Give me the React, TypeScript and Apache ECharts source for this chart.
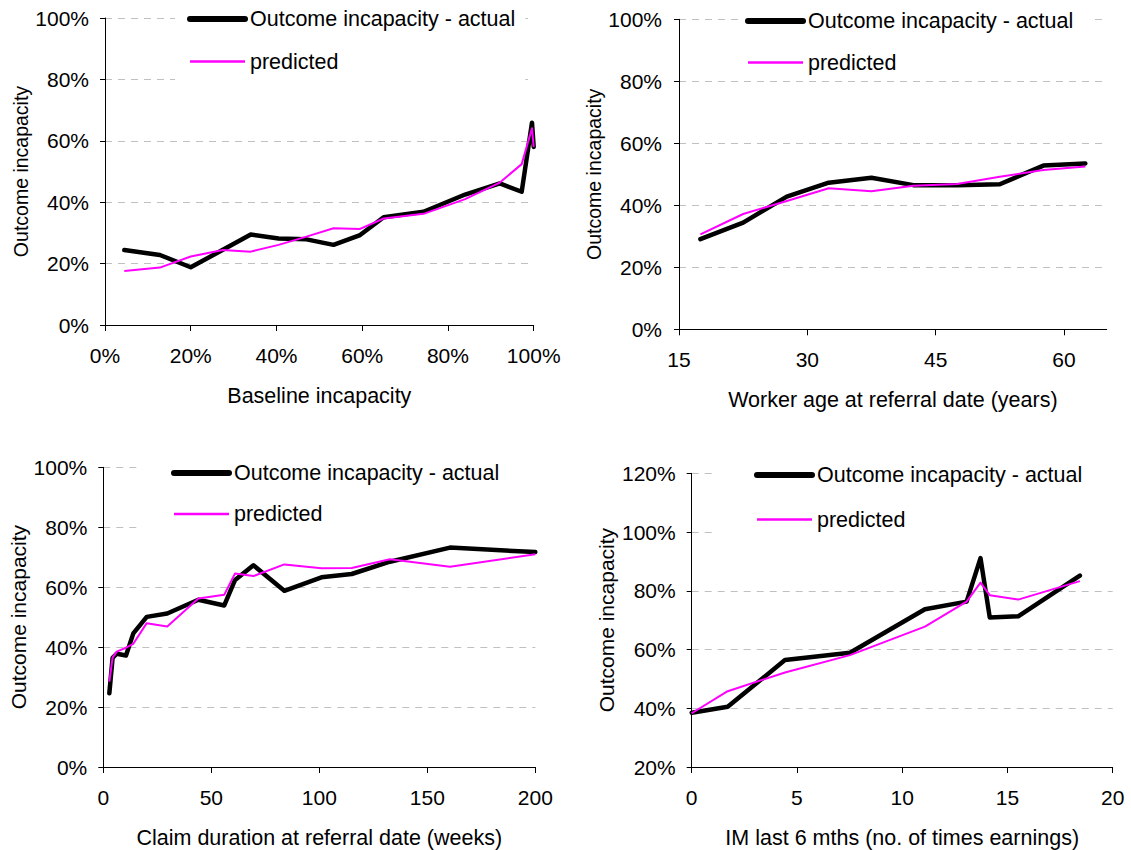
import React, { useEffect, useRef } from "react";
import * as echarts from "echarts";

// ---- Data ----
const ACTUAL = "Outcome incapacity - actual";
const PREDICTED = "predicted";

const baselineX = [4.5, 12.8, 20, 27.5, 34, 40.5, 47, 53.3, 59.5, 65, 74.3, 84, 92.1, 97.2, 99.6, 100];
const baselineActual = [24.4, 22.8, 18.8, 24.5, 29.5, 28.2, 27.9, 26.1, 29.3, 35.1, 36.9, 42.5, 46.1, 43.4, 65.9, 58];
const baselinePred = [17.6, 18.7, 22.3, 24.4, 23.9, 26.1, 28.8, 31.5, 31.3, 34.7, 36.2, 41.0, 46.4, 52.4, 64.1, 58];

const ageX = [17.5, 22.5, 27.6, 32.5, 37.5, 42.4, 47.5, 52.5, 57.6, 62.5];
const ageActual = [29.1, 34.4, 42.8, 47.3, 48.9, 46.5, 46.5, 46.8, 52.8, 53.5];
const agePred = [30.6, 37.2, 41.4, 45.5, 44.5, 46.3, 46.9, 49.2, 51.4, 52.5];

const durationX = [2.8, 4.3, 6.2, 10.5, 13.9, 20.1, 29.6, 44, 56, 61, 69.5, 83.8, 101, 115, 132.7, 160.5, 200];
const durationActual = [24.6, 36.4, 37.8, 37.2, 44.6, 50.1, 51.2, 55.8, 53.9, 62.4, 67.3, 58.8, 63.3, 64.4, 68.5, 73.2, 71.7];
const durationPred = [28.5, 36.5, 38.5, 39.8, 41.1, 48.0, 46.9, 56.2, 57.5, 64.6, 63.7, 67.6, 66.3, 66.4, 69.3, 66.8, 71.0];

const imX = [0, 1.71, 4.43, 7.52, 11.08, 13.06, 13.72, 14.16, 15.51, 18.44];
const imActual = [38.5, 40.5, 56.4, 58.9, 73.7, 76.3, 91.1, 70.9, 71.3, 85.2];
const imPred = [38.3, 45.8, 52.2, 58.1, 67.8, 76.3, 82.8, 78.5, 77.0, 83.3];

// x-axis tick values
const baselineTicks = [0, 20, 40, 60, 80, 100];
const ageTicks = [15, 30, 45, 60];
const durationTicks = [0, 50, 100, 150, 200];
const imTicks = [0, 5, 10, 15, 20];

const FONT = "'Liberation Sans', Arial, sans-serif";

type Panel = {
  grid: { left: number; top: number; width: number; height: number };
  xName: string;
  xMin: number;
  xMax: number;
  xInterval: number;
  xTicks: number[];
  xPercent: boolean;
  yMin: number;
  yMax: number;
  yNameGap: number;
  yNameSize: number;
  yLabelMargin: number;
  xs: number[];
  actual: number[];
  pred: number[];
  legend: { left: number; top: number; padding: number[]; itemGap: number };
};

const panels: Panel[] = [
  {
    grid: { left: 105, top: 18, width: 428.7, height: 307 },
    xName: "Baseline incapacity",
    xMin: 0, xMax: 100, xInterval: 20, xTicks: baselineTicks, xPercent: true,
    yMin: 0, yMax: 100, yNameGap: 72, yNameSize: 19.5, yLabelMargin: 16,
    xs: baselineX, actual: baselineActual, pred: baselinePred,
    legend: { left: 175, top: 3, padding: [5, 10, 12, 12], itemGap: 20.5 },
  },
  {
    grid: { left: 679, top: 19.3, width: 427.7, height: 310 },
    xName: "Worker age at referral date (years)",
    xMin: 15, xMax: 65, xInterval: 15, xTicks: ageTicks, xPercent: false,
    yMin: 0, yMax: 100, yNameGap: 72, yNameSize: 19.5, yLabelMargin: 17,
    xs: ageX, actual: ageActual, pred: agePred,
    legend: { left: 738, top: 5, padding: [5, 20, 5, 7], itemGap: 19.5 },
  },
  {
    grid: { left: 103.3, top: 467.3, width: 432, height: 304.4 },
    xName: "Claim duration at referral date (weeks)",
    xMin: 0, xMax: 200, xInterval: 50, xTicks: durationTicks, xPercent: false,
    yMin: 0, yMax: 100, yNameGap: 74, yNameSize: 21, yLabelMargin: 16,
    xs: durationX, actual: durationActual, pred: durationPred,
    legend: { left: 137, top: 457, padding: [5, 40, 8, 34], itemGap: 19.1 },
  },
  {
    grid: { left: 691.7, top: 473.3, width: 421, height: 300 },
    xName: "IM last 6 mths (no. of times earnings)",
    xMin: 0, xMax: 20, xInterval: 5, xTicks: imTicks, xPercent: false,
    yMin: 20, yMax: 120, yNameGap: 75, yNameSize: 21, yLabelMargin: 16,
    xs: imX, actual: imActual, pred: imPred,
    legend: { left: 715, top: 459, padding: [5, 32, 8, 39], itemGap: 22.5 },
  },
];

function buildOption() {
  const grid: any[] = [];
  const xAxis: any[] = [];
  const yAxis: any[] = [];
  const series: any[] = [];
  const legend: any[] = [];

  panels.forEach((p, i) => {
    grid.push({ ...p.grid, containLabel: false });
    xAxis.push({
      type: "value",
      gridIndex: i,
      min: p.xMin,
      max: p.xMax,
      interval: p.xInterval,
      name: p.xName,
      nameLocation: "middle",
      nameGap: 60,
      nameTextStyle: { fontSize: 21.5, color: "#000", fontFamily: FONT },
      axisLine: { show: true, onZero: false, lineStyle: { color: "#000", width: 1 } },
      axisTick: { show: true, inside: false, length: 6, lineStyle: { color: "#000" }, customValues: p.xTicks },
      axisLabel: {
        show: true,
        margin: 20,
        fontSize: 21,
        color: "#000",
        fontFamily: FONT,
        customValues: p.xTicks,
        formatter: (v: number) => (p.xPercent ? `${v}%` : `${v}`),
      },
      splitLine: { show: false },
    });
    yAxis.push({
      type: "value",
      gridIndex: i,
      min: p.yMin,
      max: p.yMax,
      interval: 20,
      name: "Outcome incapacity",
      nameLocation: "middle",
      nameGap: p.yNameGap,
      nameTextStyle: { fontSize: p.yNameSize, color: "#000", fontFamily: FONT },
      axisLine: { show: true, lineStyle: { color: "#000", width: 1 } },
      axisTick: { show: true, inside: false, length: 5, lineStyle: { color: "#000" } },
      axisLabel: {
        show: true,
        margin: p.yLabelMargin,
        fontSize: 21,
        color: "#000",
        fontFamily: FONT,
        formatter: (v: number) => `${v}%`,
      },
      splitLine: { show: true, lineStyle: { color: "#c0c0c0", width: 1, type: [7, 6] } },
    });
    series.push({
      type: "line",
      name: ACTUAL,
      xAxisIndex: i,
      yAxisIndex: i,
      data: p.xs.map((x, k) => [x, p.actual[k]]),
      showSymbol: false,
      symbol: "none",
      lineStyle: { color: "#000", width: 4.5, cap: "round", join: "round" },
      itemStyle: { color: "#000" },
      z: 2,
    });
    series.push({
      type: "line",
      name: PREDICTED,
      xAxisIndex: i,
      yAxisIndex: i,
      data: p.xs.map((x, k) => [x, p.pred[k]]),
      showSymbol: false,
      symbol: "none",
      lineStyle: { color: "#ff00ff", width: 2, join: "round" },
      itemStyle: { color: "#ff00ff" },
      z: 3,
    });
    legend.push({
      orient: "vertical",
      left: p.legend.left,
      top: p.legend.top,
      padding: p.legend.padding,
      itemGap: p.legend.itemGap,
      itemWidth: 55,
      itemHeight: 14,
      backgroundColor: "#fff",
      selectedMode: false,
      itemStyle: { opacity: 0 },
      textStyle: { fontSize: 21.5, color: "#000", fontFamily: FONT },
      data: [
        { name: ACTUAL, itemStyle: { opacity: 0 }, lineStyle: { width: 6, color: "#000", cap: "round" } },
        { name: PREDICTED, itemStyle: { opacity: 0 }, lineStyle: { width: 2.5, color: "#ff00ff" } },
      ],
      z: 10,
    });
  });

  return {
    animation: false,
    backgroundColor: "#fff",
    textStyle: { fontFamily: FONT },
    grid,
    xAxis,
    yAxis,
    series,
    legend,
  };
}

export default function App() {
  const ref = useRef<HTMLDivElement>(null);
  useEffect(() => {
    if (!ref.current) return;
    const chart = echarts.init(ref.current, null, { renderer: "svg" });
    chart.setOption(buildOption() as any);
    return () => chart.dispose();
  }, []);
  return (
    <div
      ref={ref}
      style={{ position: "fixed", left: 0, top: 0, width: 1131, height: 850, background: "#fff" }}
    />
  );
}
